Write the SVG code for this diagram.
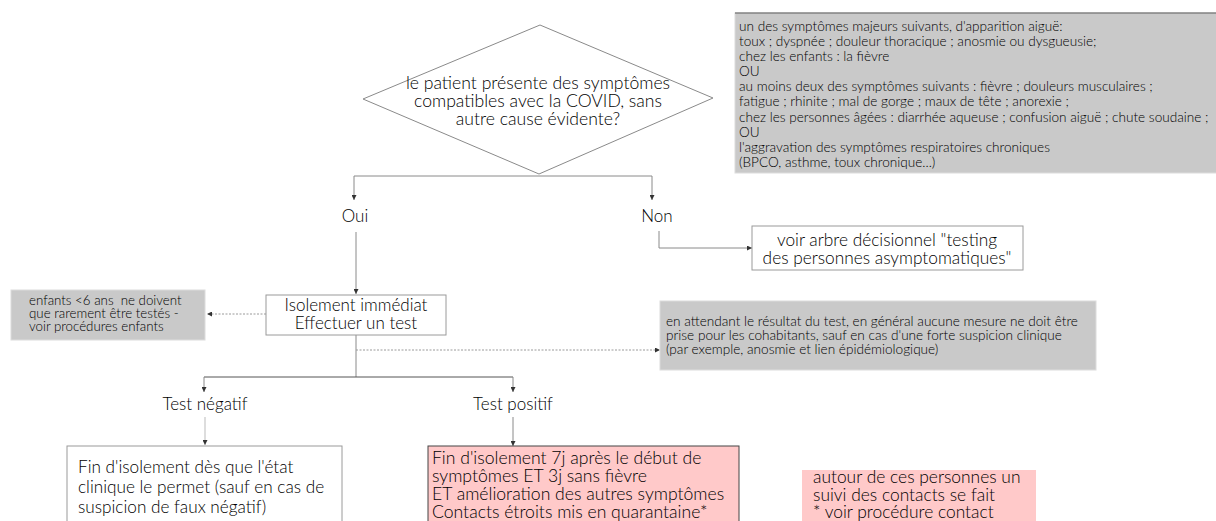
<svg xmlns="http://www.w3.org/2000/svg" width="1216" height="521" viewBox="0 0 1216 521">
<defs>
<marker id="arr" viewBox="0 0 6 6" refX="6" refY="3" markerWidth="5" markerHeight="5" orient="auto" markerUnits="userSpaceOnUse">
<path d="M0,0 L6,3 L0,6 z" fill="#333"/>
</marker>
</defs>
<style>
text{font-family:Lato,"Liberation Sans",sans-serif;fill:#000;font-weight:300}
.big{font-size:17px}
.sm{font-size:13.6px}
.mid{text-anchor:middle}
.ln{fill:none;stroke:#8a8a8a;stroke-width:1}
.dash{fill:none;stroke:#9a9a9a;stroke-width:1;stroke-dasharray:2,1.5}
.grey{fill:#c9c9c9;stroke:#dcdcdc;stroke-width:1}
.white{fill:#fff;stroke:#9a9a9a;stroke-width:1}
.pink{fill:#ffc9c9}
</style>
<rect width="1216" height="521" fill="#fff"/>

<g id="connectors">
<path class="ln" d="M354,176 H652"/>
<path class="ln" d="M354,176 V200" marker-end="url(#arr)"/>
<path class="ln" d="M652,176 V200" marker-end="url(#arr)"/>
<path class="ln" d="M356,232 V294" marker-end="url(#arr)"/>
<path class="ln" d="M659,231 V248 H752" marker-end="url(#arr)"/>
<path class="dash" d="M266,314 H207" marker-end="url(#arr)"/>
<path class="ln" d="M356,335 V377"/>
<path class="dash" d="M356,350 H660" marker-end="url(#arr)"/>
<path class="ln" d="M204,377 H513" style="stroke:#555"/>
<path class="ln" d="M204,377 V392" marker-end="url(#arr)"/>
<path class="ln" d="M513,377 V392" marker-end="url(#arr)"/>
<path class="ln" d="M205,417 V445" style="stroke:#bbb" marker-end="url(#arr)"/>
<path class="ln" d="M513,417 V446" marker-end="url(#arr)"/>
</g>

<g id="criteria">
<rect class="grey" x="735" y="13" width="490" height="160"/>
<line x1="735" y1="13" x2="1216" y2="13" stroke="#555" stroke-width="1"/>
<text class="sm" x="739" y="31">un des symptômes majeurs suivants, d'apparition aiguë:</text>
<text class="sm" x="739" y="46">toux ; dyspnée ; douleur thoracique ; anosmie ou dysgueusie;</text>
<text class="sm" x="739" y="61">chez les enfants : la fièvre</text>
<text class="sm" x="739" y="76">OU</text>
<text class="sm" x="739" y="91">au moins deux des symptômes suivants : fièvre ; douleurs musculaires ;</text>
<text class="sm" x="739" y="106">fatigue ; rhinite ; mal de gorge ; maux de tête ; anorexie ;</text>
<text class="sm" x="739" y="122">chez les personnes âgées : diarrhée aqueuse ; confusion aiguë ; chute soudaine ;</text>
<text class="sm" x="739" y="137">OU</text>
<text class="sm" x="739" y="152">l'aggravation des symptômes respiratoires chroniques</text>
<text class="sm" x="739" y="167">(BPCO, asthme, toux chronique...)</text>
</g>

<g id="decision">
<polygon points="540,25 713,98 539,174 363,99" fill="#fff" stroke="#8a8a8a" stroke-width="1"/>
<text class="big mid" x="538" y="89" style="font-size:17.6px">le patient présente des symptômes</text>
<text class="big mid" x="538" y="107" style="font-size:17.6px">compatibles avec la COVID, sans</text>
<text class="big mid" x="538" y="125" style="font-size:17.6px">autre cause évidente?</text>
</g>

<g id="oui"><text class="big mid" x="355" y="222">Oui</text></g>
<g id="non"><text class="big mid" x="657" y="222">Non</text></g>

<g id="voir">
<rect class="white" x="752" y="226" width="271" height="44"/>
<text class="big mid" x="887" y="246" style="font-size:17.3px">voir arbre décisionnel "testing</text>
<text class="big mid" x="887" y="264" style="font-size:17.3px">des personnes asymptomatiques"</text>
</g>

<g id="isolement">
<rect class="white" x="266" y="295" width="180" height="40"/>
<text class="big mid" x="356" y="311">Isolement immédiat</text>
<text class="big mid" x="356" y="329">Effectuer un test</text>
</g>

<g id="enfants">
<rect class="grey" x="11" y="290" width="194" height="50"/>
<text class="sm" x="29" y="305" xml:space="preserve" style="font-size:13.3px">enfants &lt;6 ans  ne doivent</text>
<text class="sm" x="29" y="318" style="font-size:13.3px">que rarement être testés -</text>
<text class="sm" x="29" y="331" style="font-size:13.3px">voir procédures enfants</text>
</g>

<g id="cohabitants">
<rect class="grey" x="660" y="301" width="436" height="69"/>
<text class="sm" x="666" y="326">en attendant le résultat du test, en général aucune mesure ne doit être</text>
<text class="sm" x="666" y="340">prise pour les cohabitants, sauf en cas d'une forte suspicion clinique</text>
<text class="sm" x="666" y="354">(par exemple, anosmie et lien épidémiologique)</text>
</g>

<g id="negatif"><text class="big mid" x="205" y="410">Test négatif</text></g>
<g id="positif"><text class="big mid" x="513" y="410">Test positif</text></g>

<g id="fin-negatif">
<rect class="white" x="67" y="446" width="275" height="90"/>
<text class="big" x="78" y="473" style="font-size:17.2px">Fin d'isolement dès que l'état</text>
<text class="big" x="78" y="493" style="font-size:17.2px">clinique le permet (sauf en cas de</text>
<text class="big" x="78" y="513" style="font-size:17.2px">suspicion de faux négatif)</text>
</g>

<g id="fin-positif">
<rect class="pink" x="428" y="446" width="311" height="90" stroke="#444" stroke-width="1"/>
<text class="big" x="432" y="464" style="font-size:17.6px">Fin d'isolement 7j après le début de</text>
<text class="big" x="432" y="482" style="font-size:17.6px">symptômes ET 3j sans fièvre</text>
<text class="big" x="432" y="500" style="font-size:17.6px">ET amélioration des autres symptômes</text>
<text class="big" x="432" y="518" style="font-size:17.6px">Contacts étroits mis en quarantaine*</text>
</g>

<g id="contacts">
<rect class="pink" x="802" y="470" width="234" height="60"/>
<text class="big" x="813" y="483" style="font-size:17.4px">autour de ces personnes un</text>
<text class="big" x="813" y="500.5" style="font-size:17.4px">suivi des contacts se fait</text>
<text class="big" x="813" y="518" style="font-size:17.4px">* voir procédure contact</text>
</g>
</svg>
